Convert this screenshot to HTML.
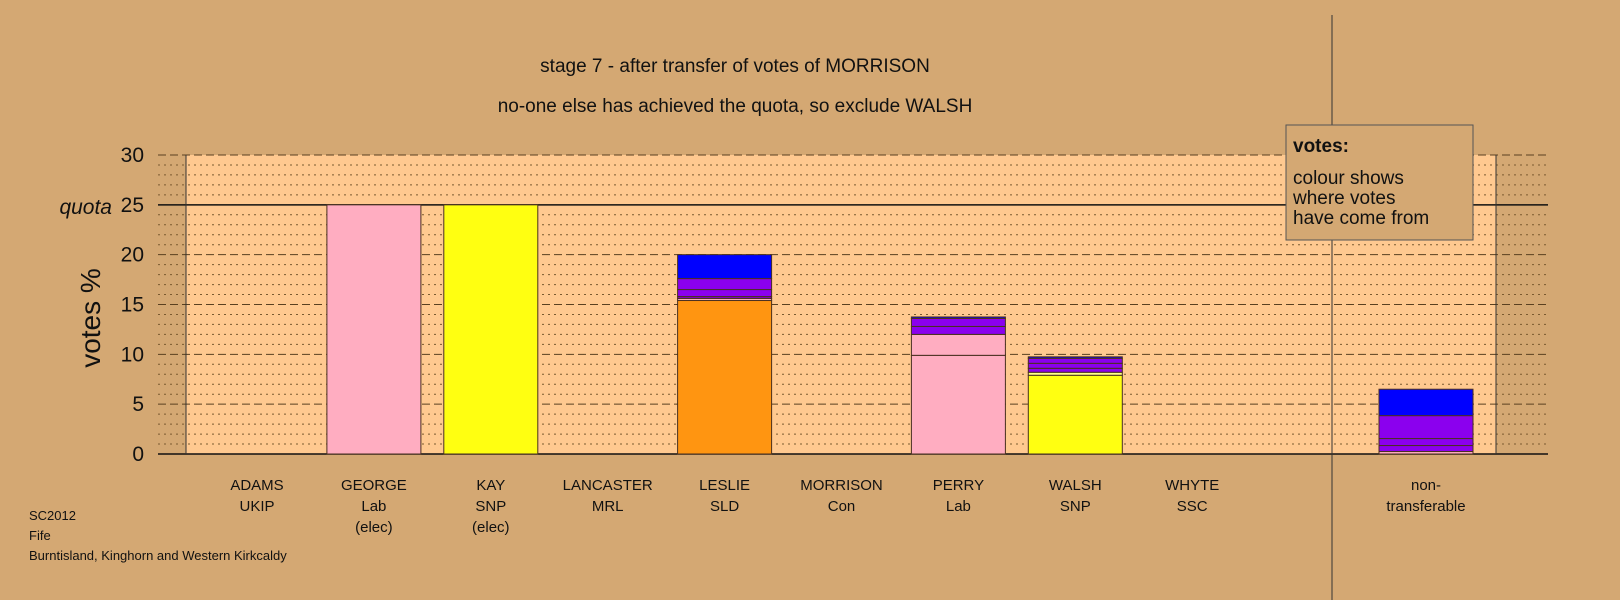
<!DOCTYPE html>
<html><head><meta charset="utf-8"><style>
body{margin:0;background:#d4a873;}
svg{display:block;font-family:"Liberation Sans",sans-serif;}
</style></head><body>
<svg id="chart" width="1620" height="600" viewBox="0 0 1620 600">
<rect x="0" y="0" width="1620" height="600" fill="#d4a873"/>
<rect x="186" y="155" width="1310" height="299" fill="#ffc990"/>
<g id="grid"></g>
<line x1="186" y1="155" x2="186" y2="454" stroke="#333"/>
<line x1="1496" y1="155" x2="1496" y2="454" stroke="#333"/>
<line x1="1332" y1="15" x2="1332" y2="600" stroke="#333"/>
<g id="bars"></g>
<g id="ticks" font-size="21" fill="#111" text-anchor="end"></g>
<text x="142" y="214" font-size="21" font-style="italic" text-anchor="end" fill="#111" transform="translate(-30,0)">quota</text>
<text transform="translate(100,318) rotate(-90)" font-size="28" text-anchor="middle" fill="#111">votes %</text>
<text x="735" y="72" font-size="19" text-anchor="middle" fill="#111">stage 7 - after transfer of votes of MORRISON</text>
<text x="735" y="112" font-size="19" text-anchor="middle" fill="#111">no-one else has achieved the quota, so exclude WALSH</text>
<g id="cats" font-size="15" fill="#111" text-anchor="middle"></g>
<g font-size="13" fill="#111">
<text x="29" y="520">SC2012</text><text x="29" y="540">Fife</text><text x="29" y="560">Burntisland, Kinghorn and Western Kirkcaldy</text>
</g>
<g>
<rect x="1286" y="125" width="187" height="115" fill="#d4a873" stroke="#555"/>
<text x="1293" y="152" font-size="19" font-weight="bold" fill="#111">votes:</text>
<text x="1293" y="184" font-size="19" fill="#111">colour shows</text>
<text x="1293" y="204" font-size="19" fill="#111">where votes</text>
<text x="1293" y="224" font-size="19" fill="#111">have come from</text>
</g>
</svg>
<script>
const categories=["ADAMS\nUKIP","GEORGE\nLab\n(elec)","KAY\nSNP\n(elec)","LANCASTER\nMRL","LESLIE\nSLD","MORRISON\nCon","PERRY\nLab","WALSH\nSNP","WHYTE\nSSC","non-\ntransferable"];
const segValues=[[],[25],[25],[],[15.4,0.2,0.2,0.7,1.1,2.4],[],[9.9,2.1,0.8,0.8,0.15],[7.9,0.3,0.4,0.5,0.5,0.15],[],[0.25,0.6,0.7,2.3,2.65]];
const segColors=[[],["#ffadc1"],["#ffff11"],[],["#ff9511","#ffadc1","#8000c0","#8b00ee","#8b00ee","#0000ff"],[],["#ffadc1","#ffadc1","#8b00ee","#8b00ee","#0000ff"],["#ffff11","#ffff88","#8b00ee","#8b00ee","#8b00ee","#0000ff"],[],["#ffadc1","#8b00ee","#8b00ee","#8b00ee","#0000ff"]];
const tickValues=[0,5,10,15,20,25,30];
const NS="http://www.w3.org/2000/svg";
const y=v=>454-v*(299/30);
const xc=i=>i<9?257+i*116.9:1426;
function mk(t,a,p){const e=document.createElementNS(NS,t);for(const k in a)e.setAttribute(k,a[k]);p.appendChild(e);return e;}
const grid=document.getElementById('grid');
for(let v=0;v<=30;v++){
  const l=mk('line',{x1:158,x2:1548,y1:y(v),y2:y(v),stroke:'#7a5a30'},grid);
  
  
  if(v===0||v===25){l.setAttribute('stroke','#111');l.setAttribute('stroke-width','1.5');}
  else if(v%5===0){l.setAttribute('stroke-dasharray','8,4');l.setAttribute('stroke','#5a4020');}
  else{l.setAttribute('stroke-dasharray','2,4');l.setAttribute('stroke-width','1');}
}
const ticks=document.getElementById('ticks');
tickValues.forEach(v=>{const t=mk('text',{x:144,y:y(v)+7},ticks);t.textContent=v;
  
  });
const bars=document.getElementById('bars');
segValues.forEach((segs,i)=>{let c=0;segs.forEach((v,j)=>{
  const r=mk('rect',{x:xc(i)-47,y:y(c+v),width:94,height:y(c)-y(c+v),fill:segColors[i][j],stroke:'#4a3020','stroke-width':1},bars);
  
  
  c+=v;});});
const cats=document.getElementById('cats');
categories.forEach((s,i)=>{s.split('\n').forEach((ln,k)=>{
  const t=mk('text',{x:xc(i),y:490+k*21},cats);t.textContent=ln;
  
  });});
</script>
</body></html>
